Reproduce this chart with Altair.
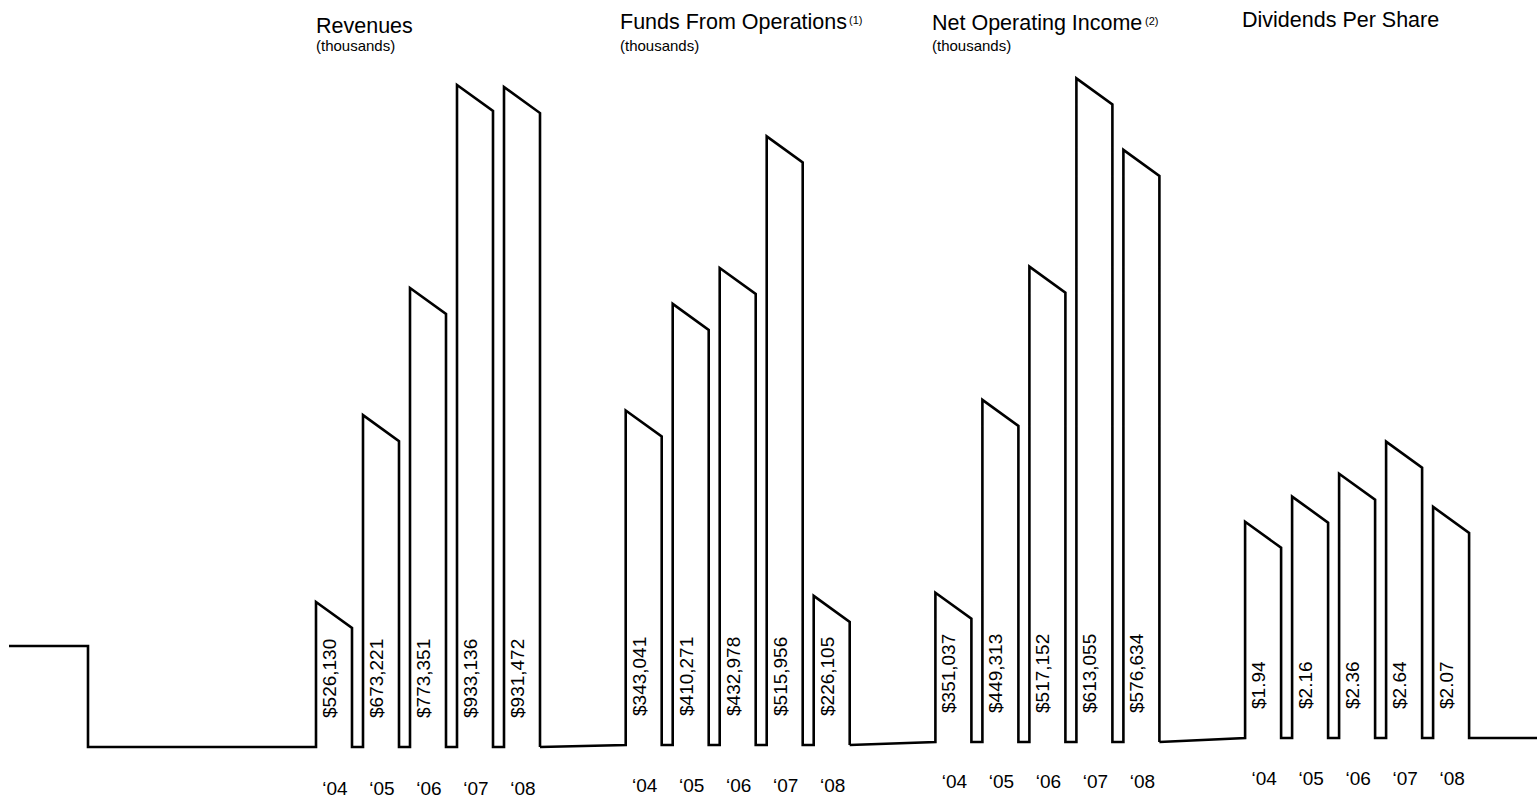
import altair as alt
import pandas as pd

# ---- data -------------------------------------------------------------
years = ["\u201804", "\u201805", "\u201806", "\u201807", "\u201808"]

revenues = [526130, 673221, 773351, 933136, 931472]
funds_from_operations = [343041, 410271, 432978, 515956, 226105]
net_operating_income = [351037, 449313, 517152, 613055, 576634]
dividends_per_share = [1.94, 2.16, 2.36, 2.64, 2.07]

titles = ["Revenues", "Funds From Operations", "Net Operating Income", "Dividends Per Share"]
notes = ["", "(1)", "(2)", ""]
subtitles = ["(thousands)", "(thousands)", "(thousands)", ""]

# value where each panel's bars start, and value reached at the top edge
floors = [412000, 132000, 275000, 0.05]
ceilings = [1000000, 602000, 653000, 6.5]

series = [revenues, funds_from_operations, net_operating_income, dividends_per_share]
formats = ["${:,.0f}", "${:,.0f}", "${:,.0f}", "${:.2f}"]

# ---- layout -----------------------------------------------------------
W, H = 1537, 800
FIRST_BAR = 316
PANEL_PITCH = 309.7
BAR_PITCH = 47
BAR_W = 36
SLANT = 26            # how far the right corner of each bar top sits below the left
BASE_PX = [747, 745, 742, 738]
TITLE_X = [316, 620, 932, 1242]
TITLE_Y = [33, 29, 30, 27]
SUB_Y = [51, 51, 51, 51]
NOTE_DX = [0, 229, 213, 0]
YEAR_Y = [795, 792, 788, 785]
LEAD_START, LEAD_STEP, LEAD_RISE = 9, 88, 101
FONT = "Liberation Sans"

x_scale = alt.Scale(domain=[0, W], nice=False, zero=False)

layers = []
prev_end = None
for k, values in enumerate(series):
    f, c, base = floors[k], ceilings[k], BASE_PX[k]
    px_per_unit = base / (c - f)
    drop = SLANT / px_per_unit
    origin = FIRST_BAR + k * PANEL_PITCH

    pts = []
    if k == 0:
        lead = f + LEAD_RISE / px_per_unit
        pts += [(LEAD_START, lead), (LEAD_STEP, lead), (LEAD_STEP, f)]
    else:
        pts.append((prev_end, f - (BASE_PX[k - 1] - base) / px_per_unit))

    label_rows, year_rows = [], []
    for i, v in enumerate(values):
        left = origin + i * BAR_PITCH
        right = left + BAR_W
        pts += [(left, f), (left, v), (right, v - drop), (right, f)]
        label_rows.append({"x": left + 14, "v": f, "text": formats[k].format(v)})
        year_rows.append({"x": left + BAR_W / 2 + 1, "text": years[i]})
    prev_end = origin + 4 * BAR_PITCH + BAR_W
    if k == len(series) - 1:
        pts.append((W, f))

    path = pd.DataFrame([{"x": x, "v": v, "seq": n} for n, (x, v) in enumerate(pts)])
    y_scale = alt.Scale(domain=[f - (H - base) / px_per_unit, c], nice=False, zero=False)

    outline = alt.Chart(path).mark_line(
        color="black", strokeWidth=2.6, strokeJoin="miter", strokeMiterLimit=20
    ).encode(
        x=alt.X("x:Q", scale=x_scale, axis=None),
        y=alt.Y("v:Q", scale=y_scale, axis=None),
        order=alt.Order("seq:Q"),
    )

    value_labels = alt.Chart(pd.DataFrame(label_rows)).mark_text(
        angle=270, align="left", baseline="middle", dx=29,
        font=FONT, fontSize=19, color="black",
    ).encode(
        x=alt.X("x:Q", scale=x_scale, axis=None),
        y=alt.Y("v:Q", scale=y_scale, axis=None),
        text="text:N",
    )

    year_labels = alt.Chart(pd.DataFrame(year_rows)).mark_text(
        align="center", baseline="alphabetic", font=FONT, fontSize=19, color="black",
    ).encode(
        x=alt.X("x:Q", scale=x_scale, axis=None),
        y=alt.value(YEAR_Y[k]),
        text="text:N",
    )

    head = pd.DataFrame([{"x": TITLE_X[k], "text": titles[k]}])
    title = alt.Chart(head).mark_text(
        align="left", baseline="alphabetic", font=FONT, fontSize=21.5, color="black",
    ).encode(x=alt.X("x:Q", scale=x_scale, axis=None), y=alt.value(TITLE_Y[k]), text="text:N")

    parts = [outline, value_labels, year_labels, title]

    if subtitles[k]:
        sub = pd.DataFrame([{"x": TITLE_X[k], "text": subtitles[k]}])
        parts.append(alt.Chart(sub).mark_text(
            align="left", baseline="alphabetic", font=FONT, fontSize=15, color="black",
        ).encode(x=alt.X("x:Q", scale=x_scale, axis=None), y=alt.value(SUB_Y[k]), text="text:N"))

    if notes[k]:
        note = pd.DataFrame([{"x": TITLE_X[k] + NOTE_DX[k], "text": notes[k]}])
        parts.append(alt.Chart(note).mark_text(
            align="left", baseline="alphabetic", font=FONT, fontSize=11, color="black",
        ).encode(x=alt.X("x:Q", scale=x_scale, axis=None), y=alt.value(TITLE_Y[k] - 5), text="text:N"))

    layers.append(alt.layer(*parts))

chart = alt.layer(*layers).resolve_scale(y="independent").properties(
    width=W, height=H, padding=0,
    autosize=alt.AutoSizeParams(type="none"),
    background="white",
).configure_view(stroke=None)

chart.save("out.html", embed_options={"renderer": "svg", "actions": False})
